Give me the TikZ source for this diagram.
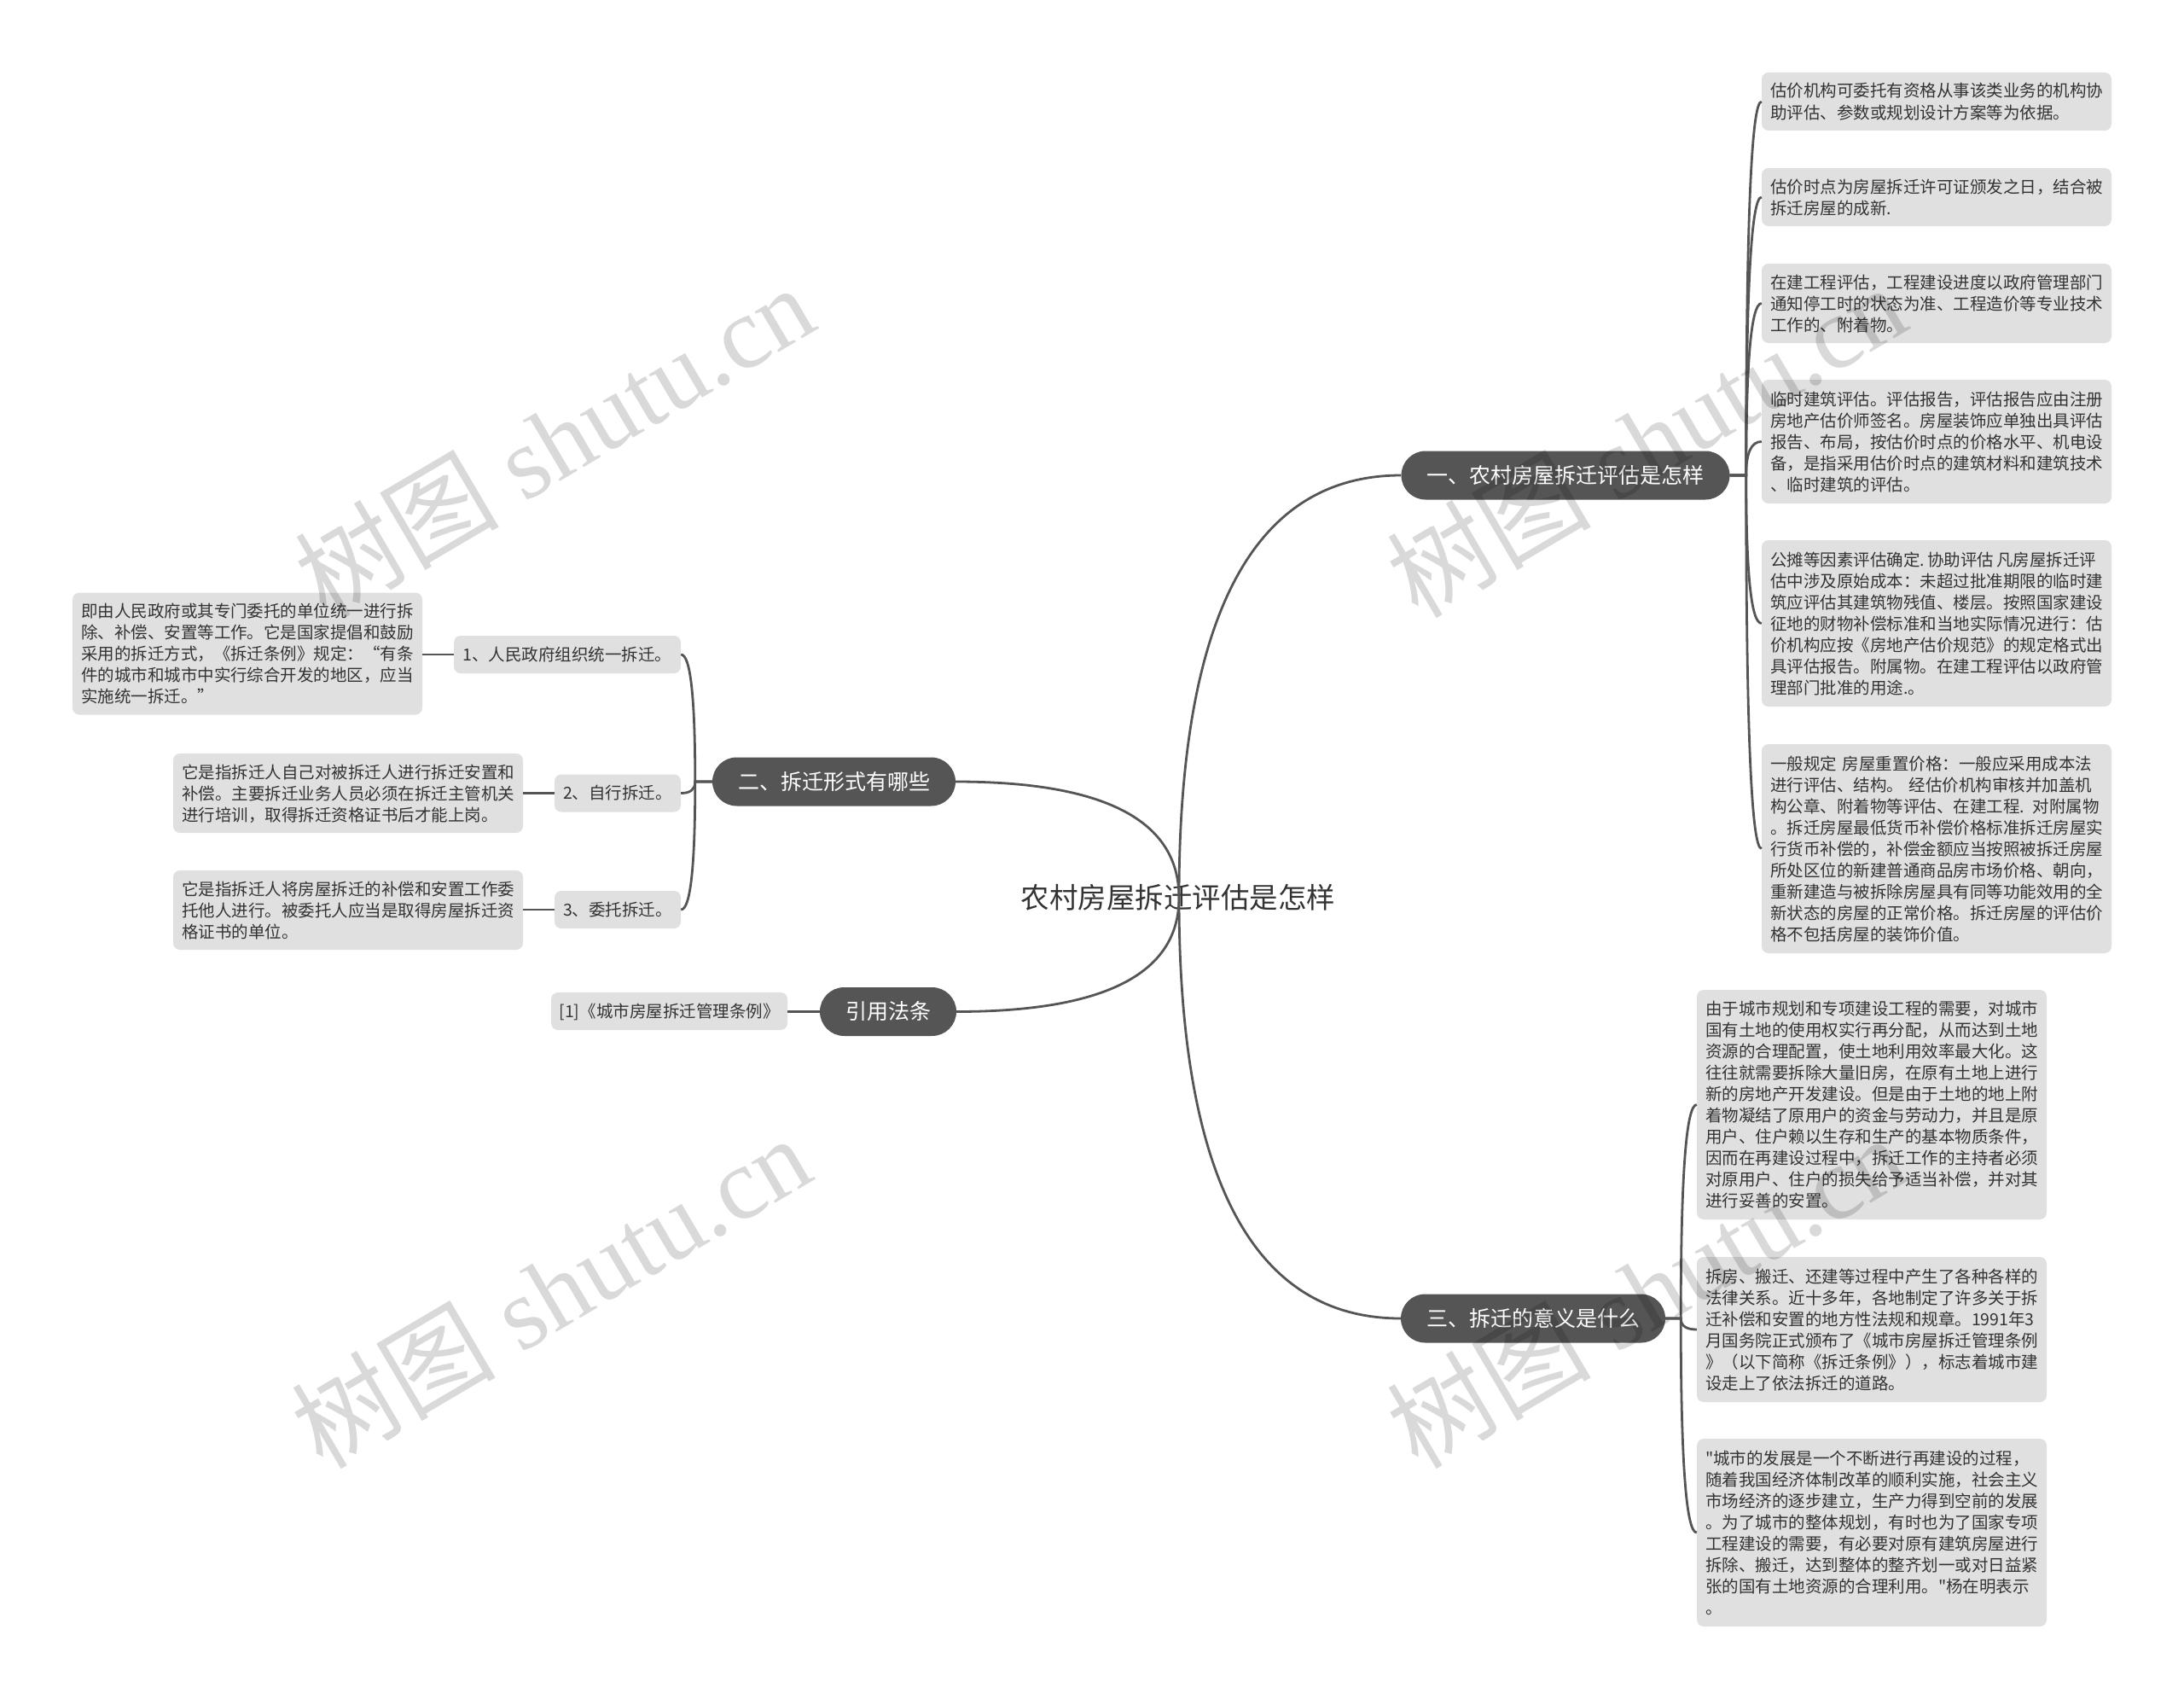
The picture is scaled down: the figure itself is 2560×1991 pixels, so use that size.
\documentclass[tikz,border=0pt]{standalone}
\usepackage{fontspec}
\setmainfont{Noto Sans CJK SC}
\newfontfamily\qf{Noto Sans CJK SC}
\newfontfamily\wmlat{Liberation Serif}
\usetikzlibrary{calc}
\definecolor{linegray}{HTML}{555555}
\definecolor{pillgray}{HTML}{555555}
\definecolor{boxgray}{HTML}{E0E0E0}
\definecolor{txt}{HTML}{333333}
\newcommand\ls{\rule[-5pt]{0pt}{25pt}}
\begin{document}
\begin{tikzpicture}[x=1pt,y=-1pt,
 conn/.style={draw=linegray, line width=2.8pt},
 qto/.style={to path={.. controls ($(\tikztostart)!0.6667!(\tikztostart|-\tikztotarget)$) and ($(\tikztotarget)!0.6667!(\tikztostart|-\tikztotarget)$) .. (\tikztotarget)}},
 pill/.style={fill=pillgray, text=white, rounded corners=28.5pt, minimum height=57pt, inner xsep=30pt, inner ysep=0pt, font=\fontsize{25pt}{30pt}\selectfont, text height=21pt, text depth=3pt},
 mid/.style={fill=boxgray, text=txt, rounded corners=8pt, minimum height=44pt, inner xsep=20pt, inner ysep=0pt, font=\fontsize{19.5pt}{25pt}\selectfont, text height=17pt, text depth=2.5pt},
 leaf/.style={fill=boxgray, text=txt, rounded corners=8pt, text width=390pt, inner xsep=10pt, inner ysep=8pt, align=left, font=\fontsize{19.5pt}{25pt}\selectfont},
 wm/.style={text=black, opacity=0.15, rotate=30.5, inner sep=0pt, font=\fontsize{120pt}{120pt}\selectfont}
]
\useasboundingbox[fill=white] (0,0) rectangle (2560,1991);

% root
\node[text=txt, inner sep=0pt, font=\fontsize{33.5pt}{40pt}\selectfont] (root) at (1381,1052) {农村房屋拆迁评估是怎样};
\coordinate (rc) at (1382,1052);

% main branches
\node[pill] (n1) at (1835,557) {一、农村房屋拆迁评估是怎样};
\node[pill] (n2) at (977.5,916) {二、拆迁形式有哪些};
\node[pill] (n4) at (1041,1185.5) {引用法条};
\node[pill] (n3) at (1797,1545) {三、拆迁的意义是什么};

% second level left
\node[mid, minimum width=266pt, inner xsep=0pt] (m1) at (665,767) {1、人民政府组织统一拆迁。};
\node[mid, minimum width=148pt, inner xsep=0pt] (m2) at (724,929.5) {2、自行拆迁。};
\node[mid, minimum width=148pt, inner xsep=0pt] (m3) at (724,1066) {3、委托拆迁。};
\node[mid, minimum width=277pt, inner xsep=0pt] (m4) at (784.5,1185) {[1]《城市房屋拆迁管理条例》};

% leaves left
\node[leaf, minimum height=143pt] (la) at (290,766) {\ls{}即由人民政府或其专门委托的单位统一进行拆\\除、补偿、安置等工作。它是国家提倡和鼓励\\采用的拆迁方式，《拆迁条例》规定：“有条\\件的城市和城市中实行综合开发的地区，应当\\实施统一拆迁。”\ls};
\node[leaf, minimum height=93pt] (lb) at (408,929.5) {\ls{}它是指拆迁人自己对被拆迁人进行拆迁安置和\\补偿。主要拆迁业务人员必须在拆迁主管机关\\进行培训，取得拆迁资格证书后才能上岗。\ls};
\node[leaf, minimum height=93pt] (lc) at (408,1066.5) {\ls{}它是指拆迁人将房屋拆迁的补偿和安置工作委\\托他人进行。被委托人应当是取得房屋拆迁资\\格证书的单位。\ls};

% leaves of branch 1
\node[leaf, minimum height=68pt] (r1) at (2270,119) {\ls{}估价机构可委托有资格从事该类业务的机构协\\助评估、参数或规划设计方案等为依据。\ls};
\node[leaf, minimum height=68pt] (r2) at (2270,231) {\ls{}估价时点为房屋拆迁许可证颁发之日，结合被\\拆迁房屋的成新.\ls};
\node[leaf, minimum height=93pt] (r3) at (2270,355.5) {\ls{}在建工程评估，工程建设进度以政府管理部门\\通知停工时的状态为准、工程造价等专业技术\\工作的、附着物。\ls};
\node[leaf, minimum height=145pt] (r4) at (2270,517.5) {\ls{}临时建筑评估。评估报告，评估报告应由注册\\房地产估价师签名。房屋装饰应单独出具评估\\报告、布局，按估价时点的价格水平、机电设\\备，是指采用估价时点的建筑材料和建筑技术\\、临时建筑的评估。\ls};
\node[leaf, minimum height=195pt] (r5) at (2270,730.5) {\ls{}\mbox{公摊等因素评估确定.\,协助评估\,凡房屋拆迁评}\\估中涉及原始成本：未超过批准期限的临时建\\筑应评估其建筑物残值、楼层。按照国家建设\\征地的财物补偿标准和当地实际情况进行：估\\价机构应按《房地产估价规范》的规定格式出\\具评估报告。附属物。在建工程评估以政府管\\理部门批准的用途.。\ls};
\node[leaf, minimum height=245pt] (r6) at (2270,994.5) {\ls{}\mbox{一般规定 房屋重置价格：一般应采用成本法}\\\mbox{进行评估、结构。 经估价机构审核并加盖机}\\\mbox{构公章、附着物等评估、在建工程. 对附属物}\\。拆迁房屋最低货币补偿价格标准拆迁房屋实\\行货币补偿的，补偿金额应当按照被拆迁房屋\\所处区位的新建普通商品房市场价格、朝向，\\重新建造与被拆除房屋具有同等功能效用的全\\新状态的房屋的正常价格。拆迁房屋的评估价\\格不包括房屋的装饰价值。\ls};

% leaves of branch 3
\node[leaf, minimum height=269pt] (s1) at (2194,1294.5) {\ls{}由于城市规划和专项建设工程的需要，对城市\\国有土地的使用权实行再分配，从而达到土地\\资源的合理配置，使土地利用效率最大化。这\\往往就需要拆除大量旧房，在原有土地上进行\\新的房地产开发建设。但是由于土地的地上附\\着物凝结了原用户的资金与劳动力，并且是原\\用户、住户赖以生存和生产的基本物质条件，\\因而在再建设过程中，拆迁工作的主持者必须\\对原用户、住户的损失给予适当补偿，并对其\\进行妥善的安置。\ls};
\node[leaf, minimum height=170pt] (s2) at (2194,1558) {\ls{}拆房、搬迁、还建等过程中产生了各种各样的\\法律关系。近十多年，各地制定了许多关于拆\\迁补偿和安置的地方性法规和规章。1991年3\\月国务院正式颁布了《城市房屋拆迁管理条例\\》（以下简称《拆迁条例》），标志着城市建\\设走上了依法拆迁的道路。\ls};
\node[leaf, minimum height=220pt] (s3) at (2194,1796) {\ls{}{\qf"}城市的发展是一个不断进行再建设的过程，\\随着我国经济体制改革的顺利实施，社会主义\\市场经济的逐步建立，生产力得到空前的发展\\。为了城市的整体规划，有时也为了国家专项\\工程建设的需要，有必要对原有建筑房屋进行\\拆除、搬迁，达到整体的整齐划一或对日益紧\\张的国有土地资源的合理利用。{\qf"}杨在明表示\\。\ls};

% junctions
\coordinate (j1) at ($(n1.east)+(19,0)$);
\coordinate (j2) at ($(n2.west)+(-20,0)$);
\coordinate (j3) at ($(n3.east)+(18,0)$);

% root connectors
\draw[conn] (rc) to[qto] (n1.west);
\draw[conn] (rc) to[qto] (n2.east);
\draw[conn] (rc) to[qto] (n4.east);
\draw[conn] (rc) to[qto] (n3.west);

% branch 1
\foreach \c in {r1,r2,r3,r4,r5,r6}{\draw[conn] (n1.east) -- (j1) to[qto] (\c.west);}
% branch 2
\foreach \c in {m1,m2,m3}{\draw[conn] (n2.west) -- (j2) to[qto] (\c.east);}
% branch 3
\foreach \c in {s1,s2,s3}{\draw[conn] (n3.east) -- (j3) to[qto] (\c.west);}
% citation
\draw[conn] (n4.west) -- (n4.west -| m4.east);
% leaves left
\draw[conn] (m1.west) -- (m1.west -| la.east);
\draw[conn] (m2.west) -- (m2.west -| lb.east);
\draw[conn] (m3.west) -- (m3.west -| lc.east);

% watermarks
\foreach \p/\n in {{(649,516)}/wa,{(1929,516)}/wb,{(645,1513)}/wc,{(1929,1513)}/wd}{
  \node[wm] (\n) at \p {树图\hspace{30pt}{\wmlat shutu.cn}};
}
\end{tikzpicture}
\end{document}
